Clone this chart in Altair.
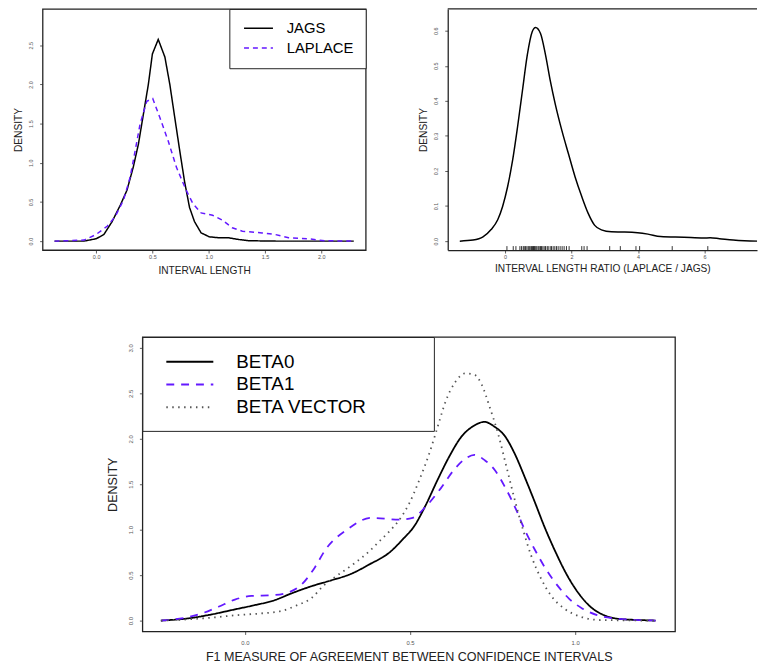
import altair as alt
import pandas as pd

# ---------------- data ----------------
# Panel A: density of interval length
a_names = ["JAGS", "LAPLACE"]
a_jags_x = [-0.37, -0.11, 0.0, 0.069, 0.142, 0.215, 0.274, 0.33, 0.376, 0.42, 0.464, 0.5, 0.552,
            0.611, 0.655, 0.699, 0.743, 0.786, 0.83, 0.874, 0.933, 1.006, 1.094, 1.18, 1.27, 1.357,
            1.6, 2.0, 2.29]
a_jags_y = [0, 0, 0.03, 0.085, 0.25, 0.46, 0.65, 0.945, 1.24, 1.62, 2.0, 2.39, 2.575,
            2.35, 2.0, 1.575, 1.155, 0.76, 0.43, 0.25, 0.105, 0.055, 0.042, 0.042, 0.02, 0.005,
            0, 0, 0]
a_lap_x = [-0.37, -0.107, 0.0, 0.098, 0.17, 0.244, 0.303, 0.347, 0.39, 0.45, 0.503, 0.567, 0.64,
           0.713, 0.8, 0.86, 0.933, 1.035, 1.12, 1.21, 1.3, 1.475, 1.59, 1.71, 1.885, 2.03, 2.28]
a_lap_y = [0, 0.013, 0.085, 0.19, 0.315, 0.525, 0.82, 1.155, 1.49, 1.785, 1.82, 1.575, 1.28,
           0.945, 0.65, 0.48, 0.36, 0.33, 0.27, 0.17, 0.126, 0.105, 0.085, 0.043, 0.03, 0.005, 0]

# Panel B: density of the interval length ratio, plus rug
b_x = [-1.357, -0.96, -0.66, -0.416, -0.217, -0.07, 0.08, 0.23, 0.377, 0.525, 0.673, 0.82, 0.92,
       1.07, 1.22, 1.366, 1.515, 1.713, 1.91, 2.11, 2.31, 2.5, 2.7, 2.9, 3.2, 3.6, 3.99, 4.3,
       4.68, 5.38, 5.97, 6.17, 6.45, 6.86, 7.2, 7.65]
b_y = [0, 0.003, 0.012, 0.033, 0.061, 0.099, 0.155, 0.23, 0.324, 0.428, 0.531, 0.597, 0.609,
       0.592, 0.531, 0.456, 0.39, 0.315, 0.249, 0.183, 0.127, 0.08, 0.045, 0.032, 0.0265, 0.026,
       0.024, 0.02, 0.013, 0.011, 0.009, 0.0095, 0.007, 0.003, 0.001, 0]
b_rug = [0.06, 0.25, 0.33, 0.45, 0.5, 0.55, 0.58, 0.62, 0.66, 0.7, 0.73, 0.76, 0.8, 0.83, 0.86,
         0.88, 0.9, 0.93, 0.96, 1.0, 1.03, 1.07, 1.1, 1.14, 1.18, 1.22, 1.27, 1.3, 1.36, 1.4,
         1.45, 1.5, 1.55, 1.6, 1.66, 1.72, 1.78, 1.85, 1.93, 2.31, 2.38, 2.47, 3.15, 3.47, 3.94,
         4.05, 5.03, 6.1]

# Panel C: density of the F1 measure
c_names = ["BETA0", "BETA1", "BETA VECTOR"]
c_b0_x = [-0.254, -0.17, -0.1, -0.03, 0.03, 0.09, 0.139, 0.2, 0.259, 0.319, 0.378, 0.438, 0.478,
          0.513, 0.548, 0.583, 0.618, 0.657, 0.692, 0.725, 0.757, 0.787, 0.817, 0.847, 0.877,
          0.906, 0.941, 0.976, 1.011, 1.046, 1.086, 1.136, 1.195, 1.243]
c_b0_y = [0, 0.025, 0.068, 0.123, 0.17, 0.224, 0.296, 0.376, 0.44, 0.51, 0.62, 0.75, 0.894,
          1.04, 1.274, 1.545, 1.8, 2.03, 2.14, 2.186, 2.13, 2.03, 1.835, 1.58, 1.31,
          1.04, 0.75, 0.495, 0.296, 0.152, 0.061, 0.017, 0.006, 0]
c_b1_x = [-0.254, -0.18, -0.13, -0.08, -0.03, 0.02, 0.08, 0.129, 0.169, 0.209, 0.245, 0.309,
          0.383, 0.468, 0.508, 0.548, 0.593, 0.632, 0.667, 0.695, 0.727, 0.757, 0.787, 0.817,
          0.847, 0.877, 0.911, 0.946, 0.981, 1.021, 1.066, 1.116, 1.195, 1.243]
c_b1_y = [0, 0.032, 0.079, 0.152, 0.231, 0.271, 0.278, 0.307, 0.387, 0.568, 0.785, 1.0,
          1.13, 1.11, 1.13, 1.255, 1.455, 1.654, 1.78, 1.824, 1.762, 1.654, 1.472, 1.255,
          1.0, 0.785, 0.568, 0.387, 0.242, 0.134, 0.061, 0.025, 0.006, 0]
c_bv_x = [-0.254, -0.17, -0.09, -0.02, 0.05, 0.109, 0.159, 0.2, 0.239, 0.279, 0.329, 0.378,
          0.408, 0.438, 0.468, 0.498, 0.528, 0.558, 0.583, 0.608, 0.638, 0.667, 0.697, 0.717,
          0.742, 0.767, 0.792, 0.817, 0.842, 0.867, 0.897, 0.926, 0.966, 1.016, 1.076, 1.243]
c_bv_y = [0, 0.014, 0.036, 0.061, 0.079, 0.104, 0.17, 0.242, 0.387, 0.495, 0.622, 0.767,
          0.875, 0.984, 1.11, 1.292, 1.545, 1.835, 2.124, 2.414, 2.63, 2.72, 2.70, 2.595,
          2.34, 2.05, 1.69, 1.328, 1.0, 0.712, 0.459, 0.278, 0.134, 0.043, 0.006, 0]

a_xticks = [0.0, 0.5, 1.0, 1.5, 2.0]
a_yticks = [0.0, 0.5, 1.0, 1.5, 2.0, 2.5]
b_xticks = [0, 2, 4, 6]
b_yticks = [0.0, 0.1, 0.2, 0.3, 0.4, 0.5, 0.6]
c_xticks = [0.0, 0.5, 1.0]
c_yticks = [0.0, 0.5, 1.0, 1.5, 2.0, 2.5, 3.0]


def long_df(names, xs, ys):
    rows = []
    for n, xx, yy in zip(names, xs, ys):
        for i, (a, b) in enumerate(zip(xx, yy)):
            rows.append({"series": n, "x": a, "y": b, "i": i})
    return pd.DataFrame(rows)


dfA = long_df(a_names, [a_jags_x, a_lap_x], [a_jags_y, a_lap_y])
dfB = pd.DataFrame({"x": b_x, "y": b_y})
dfRug = pd.DataFrame({"r": b_rug})
dfC = long_df(c_names, [c_b0_x, c_b1_x, c_bv_x], [c_b0_y, c_b1_y, c_bv_y])

FONT = "Liberation Sans"
FRAME = "#222222"
BLUE = "#6419ff"
LEG_PATH_A = "M-2.5,0H2.5"
LEG_PATH_C = "M-2.5,0H2.5M24,0"

AW, AH = 327, 244
BW, BH = 313, 244
CW, CH = 539, 298


def xaxis(values, fmt, title, w, ty, tfs, lfs, lpad, domain=False):
    return alt.Axis(values=values, format=fmt, title=title, titleX=w / 2, titleY=ty,
                    titleBaseline="middle", titleAlign="center", titleFontSize=tfs,
                    titleFontWeight="normal", titleColor="#222", titleFont=FONT,
                    labelFontSize=lfs, labelColor="#555", labelFont=FONT, labelPadding=lpad,
                    labelFlush=False, labelOverlap=False, tickSize=3, tickColor="#333",
                    tickWidth=0.8, grid=False, domain=domain, domainColor=FRAME,
                    domainWidth=1.3)


def yaxis(values, fmt, title, h, tx, tfs, lfs, lpad, domain=False):
    return alt.Axis(values=values, format=fmt, title=title, titleX=tx, titleY=h / 2,
                    titleAngle=270, titleBaseline="middle", titleAlign="center",
                    titleFontSize=tfs, titleFontWeight="normal", titleColor="#222",
                    titleFont=FONT, labelAngle=270, labelAlign="center",
                    labelBaseline="bottom", labelFontSize=lfs, labelColor="#555",
                    labelFont=FONT, labelPadding=lpad, labelFlush=False, labelOverlap=False,
                    tickSize=3, tickColor="#333", tickWidth=0.8, grid=False, domain=domain,
                    domainColor=FRAME, domainWidth=1.3)


# ---------------- Panel A ----------------
legA = alt.Legend(title=None, orient="top-right", offset=0, padding=12, strokeColor=FRAME,
                  fillColor="white", symbolType=LEG_PATH_A, symbolSize=137,
                  symbolStrokeWidth=1.5, symbolOffset=10, labelOffset=21, labelFontSize=15,
                  labelFont=FONT, labelColor="black", rowPadding=4, labelLimit=0)
chartA = alt.Chart(dfA).mark_line(strokeWidth=1.5).encode(
    x=alt.X("x:Q", scale=alt.Scale(domain=[-0.476, 2.396], nice=False, zero=False),
            axis=xaxis(a_xticks, ".1f", "INTERVAL LENGTH", AW, 20.7, 10.3, 5.5, 1.5)),
    y=alt.Y("y:Q", scale=alt.Scale(domain=[-0.114, 2.964], nice=False, zero=False),
            axis=yaxis(a_yticks, ".1f", "DENSITY", AH, -24.5, 10.3, 5.5, 6)),
    color=alt.Color("series:N", scale=alt.Scale(domain=a_names, range=["black", BLUE]),
                    legend=legA),
    strokeDash=alt.StrokeDash("series:N",
                              scale=alt.Scale(domain=a_names, range=[[1, 0], [5, 4]]),
                              legend=None),
    order="i:Q",
).properties(width=AW, height=AH, view=alt.ViewBackground(stroke=FRAME, strokeWidth=1.3))

# ---------------- Panel B ----------------
bx = alt.Scale(domain=[-1.72, 7.58], nice=False, zero=False)
by = alt.Scale(domain=[-0.0254, 0.662], nice=False, zero=False)
lineB = alt.Chart(dfB).mark_line(color="black", strokeWidth=1.5, clip=True,
                                 interpolate="monotone").encode(
    x=alt.X("x:Q", scale=bx,
            axis=xaxis(b_xticks, "d", "INTERVAL LENGTH RATIO (LAPLACE / JAGS)", BW, 18.6,
                       10.3, 5.5, 1.5, domain=True)),
    y=alt.Y("y:Q", scale=by, axis=yaxis(b_yticks, ".1f", "DENSITY", BH, -24.5, 10.3, 5.5, 6,
                                         domain=True)),
)
rugB = alt.Chart(dfRug).mark_rule(color="black", strokeWidth=0.8).encode(
    x=alt.X("r:Q", scale=bx), y=alt.value(BH - 4), y2=alt.value(BH))
topB = alt.Chart(dfRug.head(1)).mark_rule(color=FRAME, strokeWidth=1.3).encode(
    x=alt.value(0), x2=alt.value(BW), y=alt.value(0))
chartB = alt.layer(lineB, rugB, topB).properties(
    width=BW, height=BH, view=alt.ViewBackground(stroke="transparent"))

# ---------------- Panel C ----------------
legC = alt.Legend(title=None, orient="top-left", offset=0, padding=14, strokeColor=FRAME,
                  fillColor="white", symbolType=LEG_PATH_C, symbolSize=362,
                  symbolStrokeWidth=2, symbolOffset=23, labelOffset=36, labelFontSize=19,
                  labelFont=FONT, labelColor="black", rowPadding=2, labelLimit=0)
chartC = alt.Chart(dfC).mark_line(strokeWidth=1.8, interpolate="monotone").encode(
    x=alt.X("x:Q", scale=alt.Scale(domain=[-0.31, 1.302], nice=False, zero=False),
            axis=xaxis(c_xticks, ".1f",
                       "F1 MEASURE OF AGREEMENT BETWEEN CONFIDENCE INTERVALS", CW, 25, 12.7,
                       6, 5.5)),
    y=alt.Y("y:Q", scale=alt.Scale(domain=[-0.12, 3.12], nice=False, zero=False),
            axis=yaxis(c_yticks, ".1f", "DENSITY", CH, -30.4, 12.7, 6, 6.5)),
    color=alt.Color("series:N", scale=alt.Scale(domain=c_names,
                                                range=["black", BLUE, "#555555"]),
                    legend=legC),
    strokeDash=alt.StrokeDash("series:N", scale=alt.Scale(
        domain=c_names, range=[[1, 0], [8, 7], [1.5, 4.5]]), legend=legC),
    order="i:Q",
).properties(width=CW, height=CH, view=alt.ViewBackground(stroke=FRAME, strokeWidth=1.3))

spacer = alt.Chart(dfRug.head(1)).mark_point(opacity=0, size=1).encode(
    x=alt.X("r:Q", axis=None), y=alt.Y("r:Q", axis=None)
).properties(width=1, height=1, view=alt.ViewBackground(stroke="transparent"))

top = alt.hconcat(chartA, chartB, spacing=83, bounds="flush").resolve_scale(
    color="independent", strokeDash="independent", x="independent", y="independent"
).resolve_legend(color="independent", strokeDash="independent")
bottom = alt.hconcat(spacer, chartC, spacing=100, bounds="flush").resolve_scale(
    color="independent", strokeDash="independent", x="independent", y="independent"
).resolve_legend(color="independent", strokeDash="independent")

chart = alt.vconcat(top, bottom, spacing=59).resolve_scale(
    color="independent", strokeDash="independent", x="independent", y="independent"
).resolve_legend(color="independent", strokeDash="independent").properties(
    padding={"left": 4, "top": -5, "right": 0, "bottom": 0}
).configure(font=FONT).configure_view(stroke="transparent")

chart.save("out.html", embed_options={"renderer": "svg", "actions": False})
